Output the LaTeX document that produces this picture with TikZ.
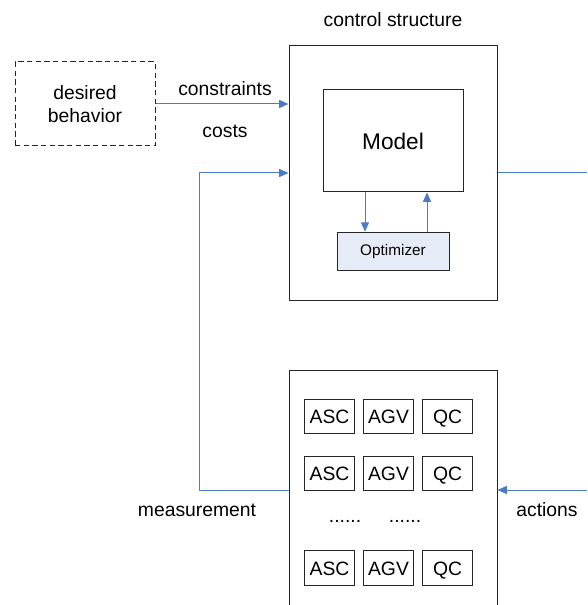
\documentclass[tikz,border=0pt]{standalone}
\usepackage{fontspec}
\setmainfont{Liberation Sans}
\usetikzlibrary{arrows.meta, positioning}
\definecolor{linkblue}{HTML}{4A7BC8}
\definecolor{optfill}{HTML}{E6ECF7}

\begin{document}
\begin{tikzpicture}[x=0.75pt, y=-0.75pt,
    block/.style={rectangle, draw=black!85, line width=0.75pt, text centered, font=\fontsize{14.5}{17}\selectfont},
    unit/.style={block, minimum width=38pt, minimum height=26pt, inner sep=0pt, text height=10.5pt, text depth=0pt},
    label/.style={font=\fontsize{14.5}{17}\selectfont},
    arrow/.style={-{Triangle[length=7pt, width=6pt]}, linkblue, line width=0.75pt},
    link/.style={linkblue, line width=0.75pt}
]

\useasboundingbox (0,0) rectangle (587,605);

\coordinate (outR) at (587,173);
\coordinate (inR) at (587,490);

\node[block, dash pattern=on 4pt off 2.5pt, minimum width=105pt, minimum height=63pt, align=center] (desired) at (85,104) {desired\\behavior};
\node[block, minimum width=156pt, minimum height=190.5pt] (control) at (393,173) {};
\node[block, minimum width=105pt, minimum height=76.5pt, font=\fontsize{17}{20}\selectfont] (model) at (393,141) {Model};
\node[block, fill=optfill, minimum width=84pt, minimum height=29pt, font=\fontsize{11.5}{14}\selectfont] (optimizer) at (393,251.5) {Optimizer};
\node[block, minimum width=156pt, minimum height=180pt] (plant) at (393,490) {};

\node[label] (ctrl_label) at (393,20) {control structure};
\node[label] (constraints) at (225,89) {constraints};
\node[label] (costs) at (225,131) {costs};
\node[label] (measurement) at (197,510) {measurement};
\node[label] (actions) at (547,510) {actions};

\node[unit] (asc1) at (329.5,416.5) {ASC};
\node[unit] (agv1) at (388.5,416.5) {AGV};
\node[unit] (qc1) at (447.5,416.5) {QC};
\node[unit] (asc2) at (329.5,473.5) {ASC};
\node[unit] (agv2) at (388.5,473.5) {AGV};
\node[unit] (qc2) at (447.5,473.5) {QC};
\node[unit] (asc3) at (329.5,568) {ASC};
\node[unit] (agv3) at (388.5,568) {AGV};
\node[unit] (qc3) at (447.5,568) {QC};
\node[label] (dots1) at (345,521) {......};
\node[label] (dots2) at (405,521) {......};

\draw[arrow] (desired.east) -- (desired.east -| control.west);
\draw[arrow] (plant.west) -- ++(-89,0) |- (control.west);
\draw[link] (control.east) -- (outR);
\draw[arrow] (inR) -- (plant.east);

\draw[arrow] ([xshift=-21pt]model.south) -- ([xshift=-21pt]optimizer.north);
\draw[arrow] ([xshift=25.5pt]optimizer.north) -- ([xshift=25.5pt]model.south);

\end{tikzpicture}
\end{document}
